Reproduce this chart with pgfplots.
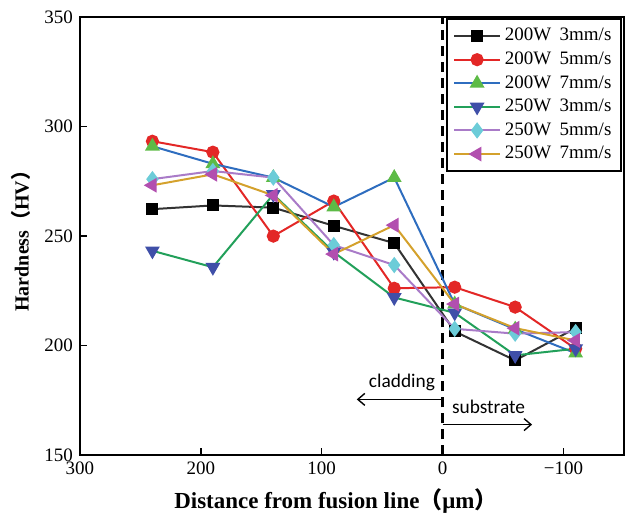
\documentclass[border=0pt]{standalone}
\usepackage{fontspec}
\setmainfont{Liberation Serif}
\newfontfamily\cjk{Noto Sans CJK SC}
\newfontfamily\calib{Carlito}
\usepackage{pgfplots}
\pgfplotsset{compat=1.18}
\usetikzlibrary{arrows.meta,calc}

\definecolor{cBkL}{HTML}{333333}
\definecolor{cRed}{HTML}{E32726}
\definecolor{cBlueL}{HTML}{2E6DBF}
\definecolor{cGreenM}{HTML}{5DBB46}
\definecolor{cGreenL}{HTML}{22A05A}
\definecolor{cBlueM}{HTML}{3F4FA8}
\definecolor{cPurL}{HTML}{A97BC8}
\definecolor{cCyanM}{HTML}{6CCCD8}
\definecolor{cGoldL}{HTML}{D4A12C}
\definecolor{cMagM}{HTML}{B24FAF}

\begin{document}
\begin{tikzpicture}
\begin{axis}[
    scale only axis,
    width=272.5pt, height=219.5pt,
    x dir=reverse,
    xmin=-150, xmax=300, ymin=150, ymax=350,
    xtick={300,200,100,0,-100},
    xticklabels={300,200,100,0,−100},
    ytick={150,200,250,300,350},
    yticklabels={150,200,250,300,350},
    xtick pos=bottom, ytick pos=left,
    tick align=inside,
    major tick length=3.5pt,
    axis line style={line width=1pt},
    tick style={line width=0.8pt, black},
    tick label style={font=\fontsize{9.5}{10}\selectfont},
    xlabel={\bfseries Distance from fusion line{\cjk （}μm{\cjk ）}},
    ylabel={\bfseries Hardness{\cjk （}HV{\cjk ）}},
    x label style={font=\fontsize{11.5}{13}\selectfont, xshift=-8pt},
    y label style={font=\fontsize{10}{12}\selectfont},
    legend style={at={(0.997,0.997)}, anchor=north east, draw=black,
        line width=1pt, font=\fontsize{9.5}{11}\selectfont,
        inner xsep=3pt, inner ysep=2.5pt, row sep=0pt, cells={anchor=west}},
    legend image code/.code={\draw[mark repeat=2,mark phase=2]
        plot coordinates {(0cm,0cm)(0.4cm,0cm)(0.8cm,0cm)};},
    every axis plot/.append style={line width=1pt},
  ]
  \addplot[black, line width=1.5pt, dash pattern=on 5pt off 3pt, forget plot]
    coordinates {(0,150) (0,350)};

  \addplot[color=cBkL, mark=square*, mark size=2.5pt, mark options={fill=black, draw=black}]
    coordinates {(240,262.3) (190,264) (140,263) (90,254.7) (40,246.8) (-10,206.5) (-60,193.3) (-110,208)};
  \addlegendentry{200W\hspace{0.45em}3mm/s}

  \addplot[color=cRed, mark=*, mark size=2.8pt, mark options={fill=cRed, draw=cRed}]
    coordinates {(240,293.3) (190,288.3) (140,250) (90,266) (40,226.2) (-10,226.7) (-60,217.6) (-110,198.6)};
  \addlegendentry{200W\hspace{0.45em}5mm/s}

  \addplot[color=cBlueL, mark=triangle*, mark size=3.3pt, mark options={fill=cGreenM, draw=cGreenM}]
    coordinates {(240,291) (190,283) (140,276.7) (90,263.3) (40,276.7) (-10,219) (-60,207.5) (-110,196.6)};
  \addlegendentry{200W\hspace{0.45em}7mm/s}

  \addplot[color=cGreenL, mark=triangle*, mark size=3.3pt, mark options={fill=cBlueM, draw=cBlueM, rotate=180}]
    coordinates {(240,243.3) (190,235.8) (140,269) (90,242.7) (40,222) (-10,215) (-60,195.6) (-110,198.6)};
  \addlegendentry{250W\hspace{0.45em}3mm/s}

  \addplot[color=cPurL, mark=diamond*, mark size=3.3pt, mark options={fill=cCyanM, draw=cCyanM}]
    coordinates {(240,276) (190,279.7) (140,276.7) (90,245.9) (40,236.8) (-10,207.7) (-60,205.5) (-110,206.2)};
  \addlegendentry{250W\hspace{0.45em}5mm/s}

  \addplot[color=cGoldL, mark=triangle*, mark size=3.3pt, mark options={fill=cMagM, draw=cMagM, rotate=90}]
    coordinates {(240,273.2) (190,278.2) (140,268.6) (90,241.8) (40,255) (-10,219) (-60,208) (-110,202.4)};
  \addlegendentry{250W\hspace{0.45em}7mm/s}

  \draw[-{Straight Barb[length=3.5pt,width=6pt]}, line width=0.7pt]
    (axis cs:0,175.5) -- (axis cs:71,175.5);
  \node[font=\calib\fontsize{9.7}{11}\selectfont] at (axis cs:33.6,183.3) {cladding};
  \draw[-{Straight Barb[length=3.5pt,width=6pt]}, line width=0.7pt]
    (axis cs:0,164) -- (axis cs:-74,164);
  \node[font=\calib\fontsize{9.7}{11}\selectfont] at (axis cs:-38,171.9) {substrate};
\end{axis}
\path ($(current axis.south west)+(-40pt,-30.5pt)$) rectangle ($(current axis.north east)+(0pt,8.5pt)$);
\end{tikzpicture}
\end{document}
